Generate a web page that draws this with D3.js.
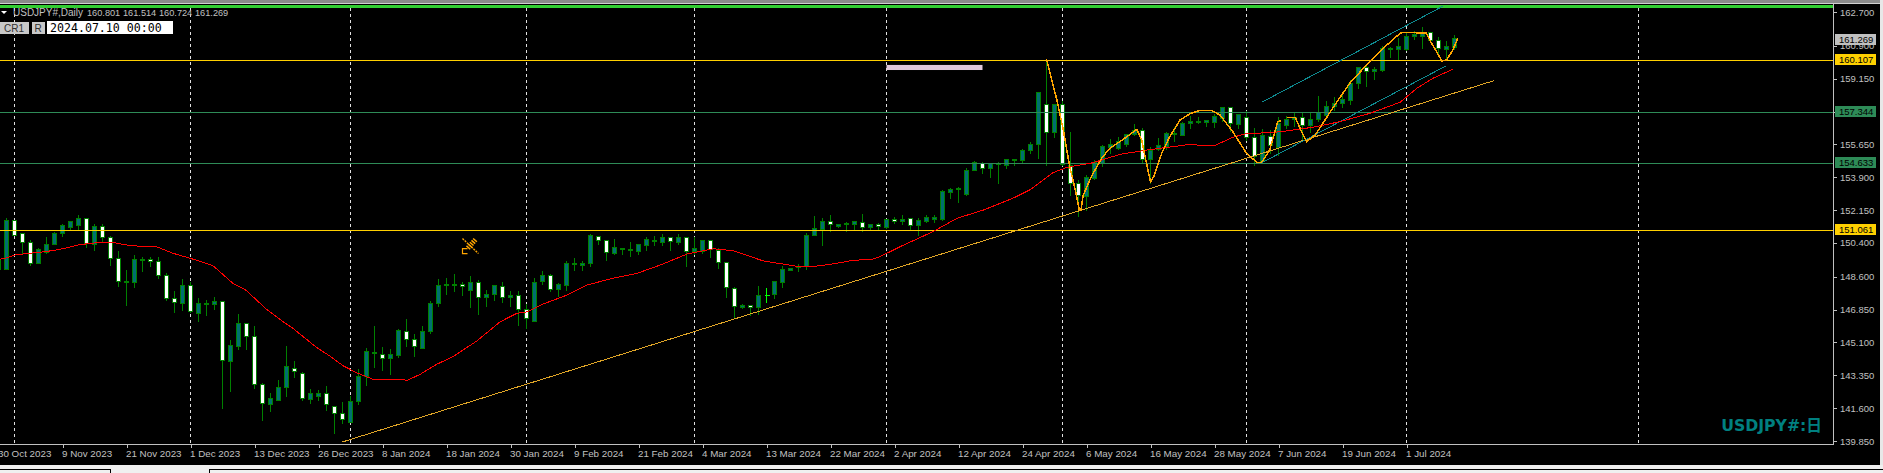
<!DOCTYPE html>
<html>
<head>
<meta charset="utf-8">
<script src="https://cdn.jsdelivr.net/npm/d3@7"></script>
<style>
  html, body { margin: 0; padding: 0; background: #000; overflow: hidden; }
  svg { display: block; }
  .axis text { fill: #c0c0c0; font-family: "Liberation Sans", sans-serif; }
  .axis line { stroke: #c0c0c0; shape-rendering: crispEdges; }
</style>
</head>
<body>
<svg id="chart" width="1883" height="473"></svg>
<script>
// daily candles, first one is the clipped bar on the left edge
const opens = [
  149.01,148.98,151.62,150.88,150.41,149.31,149.88,150.29,150.91,151.23,
  151.35,151.71,150.34,151.27,150.70,149.58,148.29,148.28,149.49,149.53,
  149.40,148.66,147.45,147.18,148.12,146.65,147.12,147.11,147.29,144.10,
  144.87,146.10,145.41,142.87,141.78,141.99,142.69,143.72,143.43,142.05,
  142.21,142.37,141.68,141.31,140.83,141.94,143.28,144.50,144.45,144.25,
  144.42,145.67,145.25,144.79,145.67,147.15,148.12,148.12,148.20,147.88,
  148.28,147.48,147.64,148.07,147.48,147.59,146.84,146.21,148.34,148.66,
  147.91,148.12,149.24,149.19,149.31,150.75,150.54,149.86,150.04,149.99,
  149.92,150.25,150.50,150.41,150.70,150.41,150.70,149.92,149.93,150.54,
  150.01,149.37,147.98,146.94,147.06,146.94,147.60,147.63,148.28,148.94,
  149.09,149.13,150.79,151.14,151.53,151.25,151.38,151.37,151.50,151.21,
  151.37,151.21,151.64,151.53,151.71,151.32,151.53,151.67,151.67,153.11,
  153.23,152.97,154.27,154.64,154.35,154.60,154.51,154.80,154.78,155.31,
  155.63,157.76,156.27,157.76,154.50,153.55,152.86,153.82,154.64,155.49,
  155.42,155.62,156.15,156.40,154.82,155.35,155.56,156.19,156.11,156.77,
  156.84,156.83,156.80,157.05,157.62,156.73,157.09,156.03,154.76,156.08,
  155.46,156.68,156.98,157.09,156.63,156.95,157.21,157.67,157.80,158.01,
  158.87,159.73,159.52,159.61,160.71,160.69,160.68,161.42,161.39,161.62,
  161.17,160.68,160.801
];
const closes = [
  149.49,151.62,150.82,150.41,149.31,150.06,150.34,150.91,151.35,151.52,
  151.71,150.38,151.30,150.70,149.58,148.34,148.37,149.53,149.54,149.40,
  148.69,147.45,147.24,148.14,146.75,147.18,147.17,147.29,144.15,144.95,
  146.12,145.43,142.87,141.86,142.12,142.71,143.83,143.56,142.12,142.39,
  142.39,141.81,141.33,141.01,141.94,143.30,144.63,144.56,144.22,144.47,
  145.76,145.27,144.90,145.67,147.18,148.14,148.16,148.16,148.09,148.30,
  147.50,147.66,148.14,147.50,147.61,146.87,146.39,148.30,148.68,147.93,
  148.21,149.31,149.31,149.31,150.77,150.52,149.90,150.18,150.11,150.04,
  150.29,150.56,150.54,150.70,150.47,150.70,149.93,150.08,150.54,150.06,
  149.37,148.04,147.00,147.08,146.97,147.61,147.62,148.32,148.99,149.05,
  149.17,150.82,151.18,151.55,151.39,151.39,151.43,151.52,151.21,151.39,
  151.29,151.66,151.55,151.66,151.32,151.61,151.78,151.78,153.15,153.27,
  153.28,154.27,154.67,154.35,154.62,154.64,154.85,154.85,155.33,155.65,
  158.39,156.29,157.78,154.60,153.58,152.94,153.90,154.67,155.52,155.62,
  155.79,156.19,156.41,154.85,155.33,155.60,156.24,156.24,156.77,156.88,
  156.88,156.90,157.12,157.62,156.77,157.25,156.03,154.99,156.10,155.60,
  156.77,157.00,157.09,156.67,156.98,157.34,157.68,157.84,158.05,158.90,
  159.75,159.54,159.66,160.77,160.78,160.84,161.42,161.48,161.62,161.19,
  160.77,160.84,161.269
];
const highs = [
  149.60,151.73,151.67,150.93,150.56,150.13,150.72,151.03,151.41,151.57,
  151.94,151.76,151.41,151.45,150.82,150.02,148.96,149.76,149.70,149.70,
  149.70,148.84,147.89,148.53,148.37,147.47,147.41,147.52,147.31,145.23,
  146.62,146.17,146.01,142.94,142.44,143.15,144.96,144.13,143.56,142.66,
  142.60,142.83,141.71,141.93,142.26,143.72,144.84,145.98,144.91,144.79,
  145.85,146.38,145.59,145.98,147.31,148.53,148.55,148.78,148.34,148.66,
  148.43,147.93,148.20,148.37,147.89,147.89,147.15,148.57,148.91,148.78,
  148.28,149.49,149.60,149.49,150.88,150.77,150.56,150.65,150.17,150.45,
  150.38,150.73,150.77,150.88,150.73,150.88,150.73,150.73,150.56,150.56,
  150.13,149.40,148.07,147.15,147.13,148.14,148.04,148.37,149.22,149.07,
  149.31,150.97,151.84,151.78,151.89,151.41,151.53,151.62,151.99,151.45,
  151.50,151.71,151.82,151.94,151.74,151.77,151.94,151.94,153.26,153.34,
  153.38,154.44,154.80,154.75,154.71,154.73,154.87,154.85,155.44,155.78,
  158.44,160.18,157.84,157.98,156.31,153.79,154.02,154.82,155.62,155.94,
  156.06,156.20,156.77,156.56,155.56,155.99,156.31,156.59,156.85,157.21,
  157.16,157.00,157.30,157.69,157.69,157.30,157.48,156.54,156.51,156.45,
  157.12,157.21,157.39,157.34,157.34,158.24,157.96,158.19,158.28,159.08,
  159.82,159.88,159.79,160.89,160.85,161.33,161.62,161.70,161.95,161.65,
  161.42,161.16,161.514
];
const lows = [
  149.01,148.96,150.82,149.81,149.19,149.28,149.85,150.29,150.73,151.14,
  151.14,150.18,150.02,150.45,149.19,148.07,147.09,148.01,148.87,149.17,
  148.48,147.32,146.67,146.78,146.72,146.20,146.51,146.86,141.59,142.48,
  144.75,144.70,142.64,140.93,141.41,141.99,142.21,143.22,141.99,141.84,
  142.03,141.50,140.24,140.76,140.83,141.77,142.83,143.76,143.63,143.40,
  144.31,144.91,144.34,144.79,145.59,147.04,147.63,147.80,147.59,146.97,
  146.60,147.04,147.36,147.22,147.04,145.98,145.85,146.21,148.21,147.80,
  147.57,147.89,148.92,148.92,149.17,150.29,149.49,149.76,149.81,149.67,
  149.76,149.99,150.25,150.25,150.02,150.29,149.17,149.81,149.85,149.63,
  149.06,147.50,146.44,146.90,146.51,146.61,147.22,147.43,148.01,148.92,
  148.87,148.96,150.79,150.25,151.00,151.20,151.00,151.14,151.00,151.09,
  151.14,151.18,151.41,151.39,151.09,150.77,151.48,151.48,151.62,152.74,
  152.54,152.94,154.25,154.12,153.91,153.55,154.34,154.50,154.67,155.14,
  154.92,154.51,156.00,154.55,152.95,151.83,152.15,153.79,154.46,155.17,
  155.35,155.56,156.10,154.64,153.58,155.31,155.40,155.78,156.10,156.47,
  156.77,156.58,156.54,156.86,156.32,156.51,155.88,154.51,154.67,155.17,
  155.08,156.51,156.59,155.88,156.27,156.86,157.12,157.48,157.60,157.75,
  158.60,158.72,159.13,159.52,160.27,160.18,160.64,161.21,160.73,161.12,
  160.32,160.14,160.724
];
const barNumbers = opens.map((d, i) => i - 1);
const limeBars = [95];

// red moving average
const maBars = [
  -0.8,-0.2,1.1,2.9,4.8,6.7,9.2,11.7,13.2,15.7,18.6,20.8,23,25.8,28.3,29.8,32.6,34.6,35.8,38.8,
  40.4,42.1,43.9,45.8,49.2,50.1,51.7,53.8,55.8,58.8,61.7,63.8,65.2,67.1,70.1,72.6,75.8,78.8,81.7,85.1,
  88.3,90.8,94.6,99.2,101.3,103.3,105.8,108.2,109.2,111.7,115.8,118.8,122.1,125.8,127.9,130.8,132.6,135.8,139.2,142.6,
  145.8,148,149.2,151.1,153.3,154.8,159.2,163.3,166.7,170.4,174.2,176.3,178.3,180.8
];
const maPrices = [
  149.53,149.58,149.76,149.85,149.93,150.06,150.31,150.43,150.43,150.24,150.22,149.85,149.58,149.19,148.25,147.93,146.83,146.20,145.85,144.82,
  144.38,143.85,143.46,143.14,143.14,143.08,143.40,143.94,144.34,145.18,146.20,146.65,146.74,147.15,147.63,148.16,148.52,148.78,149.22,149.81,
  150.09,149.99,149.44,149.13,149.17,149.28,149.47,149.53,149.67,150.20,151.00,151.71,152.15,152.78,153.22,154.14,154.43,154.67,155.12,155.35,
  155.53,155.65,155.60,155.60,156.03,156.20,156.32,156.56,156.86,157.30,157.89,158.64,159.17,159.65
];

// orange hand drawn curves
const curveABars = [130,131.3,132.1,132.9,133.6,134.1,134.3,134.6,135.6,136.9,137.9,139.6,141.3,141.9,142.5,143,143.4,144.4,145.4,146.7,147.9,149,150.6,151.7,153.3,155,156.3,156.9,157.9,158.9,159.3];
const curveAPrices = [160.18,158.01,156.42,154.46,153.22,152.15,152.15,152.95,153.93,154.91,155.44,155.92,156.45,155.88,154.64,153.66,153.93,155.17,156.06,156.95,157.27,157.44,157.46,157.21,156.32,155.17,154.69,154.69,155.35,156.86,156.91];
const curveBBars = [160.1,161.1,161.7,162.5,163.6,165.9,167.9,170,172.1,174.2,174.7,177.5,177.9,179,179.4,180,180.8,181.4];
const curveBPrices = [157.09,157.09,156.50,155.79,156.15,157.66,158.90,159.88,160.77,161.57,161.62,161.57,161.21,160.41,160.09,160.14,160.68,161.30];

// trend lines, two ends each
const trendBars = [42, 185.9];
const trendPrices = [139.80, 159.04];
const channelUpperBars = [156.9, 179.6];
const channelUpperPrices = [157.89, 163.02];
const channelLowerBars = [156.9, 179.9];
const channelLowerPrices = [154.67, 159.82];

// horizontal levels
const levelPrices = [160.107, 157.344, 154.633, 151.061];
const levelColors = ['#ffd000', '#2e8b57', '#2e8b57', '#ffd000'];

// month separators and the pink box
const separatorBars = [1, 23, 43, 65, 86, 110, 132, 155, 175, 204];
const pinkBars = [110, 122];
const pinkPrices = [159.88, 159.61];
const pencilBar = 58;
const pencilPrice = 150.26;

const yTicks = [162.7, 160.9, 159.15, 157.4, 155.65, 153.9, 152.15, 150.4, 148.6, 146.85, 145.1, 143.35, 141.6, 139.85];
const dateLabels = ['30 Oct 2023', '9 Nov 2023', '21 Nov 2023', '1 Dec 2023', '13 Dec 2023', '26 Dec 2023', '8 Jan 2024', '18 Jan 2024', '30 Jan 2024', '9 Feb 2024', '21 Feb 2024', '4 Mar 2024', '13 Mar 2024', '22 Mar 2024', '2 Apr 2024', '12 Apr 2024', '24 Apr 2024', '6 May 2024', '16 May 2024', '28 May 2024', '7 Jun 2024', '19 Jun 2024', '1 Jul 2024'];
const ohlcLabels = ['160.801', '161.514', '160.724', '161.269'];

const plotRight = 1833;
const plotBottom = 444;
const plotTop = 8;

const svg = d3.select('#chart');

// window chrome first
svg.append('rect').attr('width', 1883).attr('height', 473).attr('fill', '#000');
svg.append('rect').attr('width', 1883).attr('height', 3).attr('fill', '#8a8a8a');
svg.append('rect').attr('y', 3).attr('width', 1883).attr('height', 1).attr('fill', '#d0d0d0');
svg.append('rect').attr('y', 5).attr('width', plotRight).attr('height', 3).attr('fill', '#32cd32');

// scales
const x = d3.scaleLinear().domain([-1, 181]).range([-1.5, 1454.5]);
const y = d3.scaleLinear().domain([139.85, 162.7]).range([441, 12]);
const py = v => Math.floor(y(v)) + 0.5;

const chart = svg.append('g');

// month separators behind the candles
chart.selectAll('.separator')
    .data(separatorBars)
  .join('line')
    .attr('class', 'separator')
    .attr('x1', d => x(d))
    .attr('x2', d => x(d))
    .attr('y1', plotTop)
    .attr('y2', plotBottom)
    .attr('stroke', '#e0e0e0')
    .attr('stroke-dasharray', '3,3')
    .attr('shape-rendering', 'crispEdges');

// candles
const candleColor = d => limeBars.includes(d) ? '#00ff00' : '#008000';
const candles = chart.selectAll('.candle')
    .data(barNumbers)
  .join('g')
    .attr('class', 'candle')
    .attr('shape-rendering', 'crispEdges');

candles.append('line')
    .attr('x1', d => x(d))
    .attr('x2', d => x(d))
    .attr('y1', (d, i) => py(highs[i]))
    .attr('y2', (d, i) => py(lows[i]))
    .attr('stroke', candleColor);

candles.filter(d => !limeBars.includes(d)).append('rect')
    .attr('x', d => x(d) - 2)
    .attr('width', 4)
    .attr('y', d => py(Math.max(opens[d + 1], closes[d + 1])))
    .attr('height', d => py(Math.min(opens[d + 1], closes[d + 1])) - py(Math.max(opens[d + 1], closes[d + 1])))
    .attr('fill', d => closes[d + 1] >= opens[d + 1] ? '#007070' : '#fff')
    .attr('stroke', candleColor);

candles.filter(d => limeBars.includes(d)).append('line')
    .attr('x1', d => x(d) - 2)
    .attr('x2', d => x(d) + 3)
    .attr('y1', d => py(opens[d + 1]))
    .attr('y2', d => py(opens[d + 1]))
    .attr('stroke', candleColor);

// horizontal levels over the candles
chart.selectAll('.level')
    .data(levelPrices)
  .join('line')
    .attr('class', 'level')
    .attr('x1', 0)
    .attr('x2', plotRight)
    .attr('y1', d => py(d))
    .attr('y2', d => py(d))
    .attr('stroke', (d, i) => levelColors[i])
    .attr('shape-rendering', 'crispEdges');

// pink box
chart.append('rect')
    .attr('x', x(pinkBars[0]))
    .attr('width', x(pinkBars[1]) - x(pinkBars[0]))
    .attr('y', y(pinkPrices[0]))
    .attr('height', y(pinkPrices[1]) - y(pinkPrices[0]))
    .attr('fill', '#e0c8dc');

const line = d3.line()
    .x(d => x(d[0]))
    .y(d => y(d[1]));

// no antialiasing, the terminal draws stepped lines
function drawLine(bars, prices, color, width) {
  chart.append('path')
      .attr('d', line(d3.zip(bars, prices)))
      .attr('fill', 'none')
      .attr('stroke', color)
      .attr('stroke-width', width)
      .attr('shape-rendering', 'crispEdges');
}

drawLine(trendBars, trendPrices, '#e0a526', 1);
drawLine(channelUpperBars, channelUpperPrices, '#0e8a90', 1);
drawLine(channelLowerBars, channelLowerPrices, '#0e8a90', 1);
drawLine(maBars, maPrices, '#ff0000', 1);
drawLine(curveABars, curveAPrices, '#ffa500', 1.5);
drawLine(curveBBars, curveBPrices, '#ffa500', 1.5);

// pencil marker
const pencil = chart.append('g')
    .attr('transform', `translate(${x(pencilBar)},${y(pencilPrice)})`)
    .attr('fill', 'none')
    .attr('stroke', '#ffa500');
pencil.append('path').attr('d', 'M-8,-7L8,8').attr('stroke-width', 1.4).attr('stroke-dasharray', '2,1');
pencil.append('path').attr('d', 'M5,-6L-3,3').attr('stroke-width', 5).attr('stroke-dasharray', '1.5,1');
pencil.append('path').attr('d', 'M-3,3H-8V8H-3').attr('stroke-width', 1.2);

// plot border
svg.append('line')
    .attr('x1', plotRight + 0.5).attr('x2', plotRight + 0.5)
    .attr('y1', 4).attr('y2', plotBottom + 1)
    .attr('stroke', '#c0c0c0');
svg.append('line')
    .attr('x1', 0).attr('x2', plotRight)
    .attr('y1', plotBottom + 0.5).attr('y2', plotBottom + 0.5)
    .attr('stroke', '#c0c0c0');

// axes
const yAxis = d3.axisRight(y)
    .tickValues(yTicks)
    .tickFormat(d3.format('.3f'))
    .tickSize(3)
    .tickPadding(3);
const yAxisG = svg.append('g')
    .attr('class', 'axis')
    .attr('transform', `translate(${plotRight + 1},0)`)
    .call(yAxis);
yAxisG.select('.domain').remove();
yAxisG.selectAll('text').attr('font-size', 9.5);

const xAxis = d3.axisBottom(x)
    .tickValues(dateLabels.map((d, i) => -1 + 8 * i))
    .tickFormat((d, i) => dateLabels[i])
    .tickSize(3)
    .tickPadding(2);
const xAxisG = svg.append('g')
    .attr('class', 'axis')
    .attr('transform', `translate(0,${plotBottom + 1})`)
    .call(xAxis);
xAxisG.select('.domain').remove();
xAxisG.selectAll('text')
    .attr('font-size', 9.8)
    .attr('text-anchor', 'start')
    .attr('dx', -1);

// price labels on the axis
const priceBoxes = svg.append('g');
function priceBox(price, fill, shift) {
  const cy = Math.floor(y(price)) + shift;
  priceBoxes.append('rect')
      .attr('x', 1835).attr('y', cy - 6)
      .attr('width', 41).attr('height', 11)
      .attr('fill', fill);
  priceBoxes.append('text')
      .attr('x', 1839).attr('y', cy + 2.5)
      .attr('font-family', '"Liberation Sans", sans-serif')
      .attr('font-size', 9.5)
      .attr('fill', '#000')
      .text(d3.format('.3f')(price));
}
levelPrices.forEach((d, i) => priceBox(d, levelColors[i], 0));
priceBox(closes[closes.length - 1], '#c0c0c0', 2);

// top left header
svg.append('path').attr('d', 'M1,11H7L4,14Z').attr('fill', '#fff');
const header = svg.append('g')
    .attr('font-family', '"Liberation Sans", sans-serif')
    .attr('fill', '#c0c0c0');
header.append('text').attr('x', 13).attr('y', 16).attr('font-size', 10).text('USDJPY#,Daily');
header.selectAll('.ohlc')
    .data(ohlcLabels)
  .join('text')
    .attr('class', 'ohlc')
    .attr('x', (d, i) => 87 + 36 * i)
    .attr('y', 16)
    .attr('font-size', 9.2)
    .text(d => d);

// CR1 / R buttons and date box
const buttons = svg.append('g').attr('font-family', '"Liberation Sans", sans-serif').attr('font-size', 10).attr('fill', '#303030');
buttons.append('rect').attr('x', 0).attr('y', 22).attr('width', 29).attr('height', 12).attr('fill', '#c8c8c8');
buttons.append('rect').attr('x', 32).attr('y', 22).attr('width', 13).attr('height', 12).attr('fill', '#c8c8c8');
buttons.append('text').attr('x', 14).attr('y', 32).attr('text-anchor', 'middle').text('CR1');
buttons.append('text').attr('x', 38).attr('y', 32).attr('text-anchor', 'middle').text('R');
svg.append('rect').attr('x', 47).attr('y', 21).attr('width', 126).attr('height', 13).attr('fill', '#fff');
svg.append('text')
    .attr('x', 50).attr('y', 32)
    .attr('font-family', '"DejaVu Sans Mono", monospace')
    .attr('font-size', 11.6)
    .attr('fill', '#000')
    .text('2024.07.10 00:00');

// symbol label bottom right
svg.append('text')
    .attr('x', 1822).attr('y', 431)
    .attr('text-anchor', 'end')
    .attr('font-family', '"DejaVu Sans", "Noto Sans CJK JP", sans-serif')
    .attr('font-weight', 'bold')
    .attr('font-size', 15.7)
    .attr('fill', '#008080')
    .text('USDJPY#:日');

// bottom and right window edge, tab strip
svg.append('rect').attr('x', 1880).attr('width', 3).attr('height', 473).attr('fill', '#e8e8e8');
svg.append('rect').attr('y', 465).attr('width', 1883).attr('height', 8).attr('fill', '#f0f0f0');
svg.append('rect').attr('y', 469).attr('width', 110).attr('height', 1).attr('fill', '#000');
svg.append('rect').attr('x', 110).attr('y', 469).attr('width', 1).attr('height', 4).attr('fill', '#000');
svg.append('rect').attr('x', 209).attr('y', 469).attr('width', 1674).attr('height', 1).attr('fill', '#000');
svg.append('rect').attr('x', 209).attr('y', 469).attr('width', 1).attr('height', 4).attr('fill', '#000');
</script>
</body>
</html>
